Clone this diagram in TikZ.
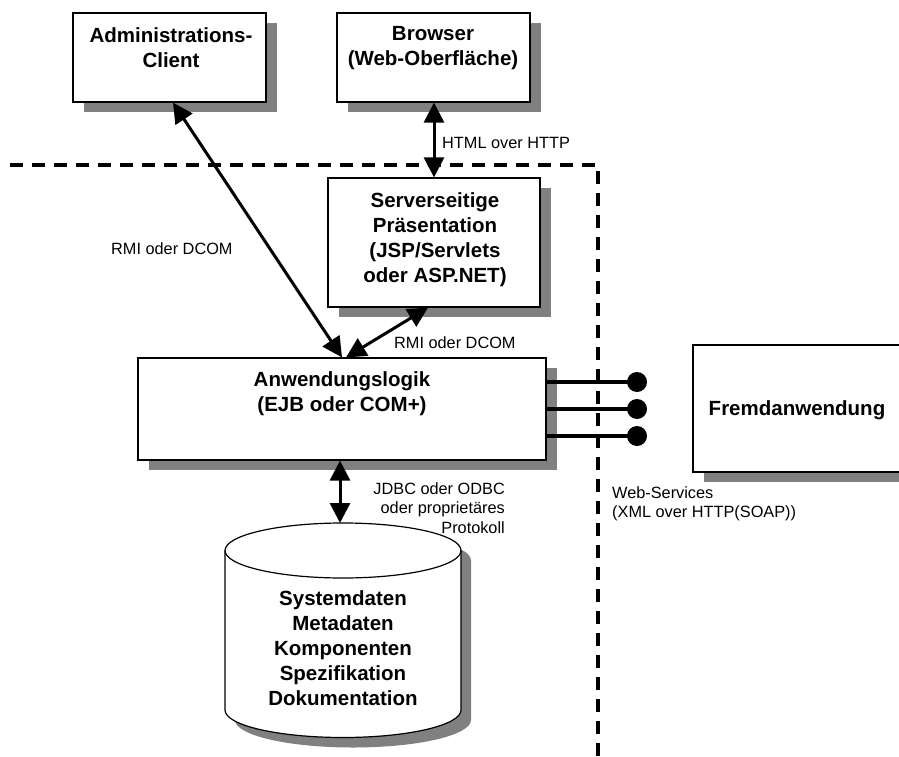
\documentclass[tikz,border=0pt]{standalone}
\usepackage{fontspec}
\setmainfont{Liberation Sans}
\usetikzlibrary{arrows.meta,shadows,calc}
\definecolor{shadowgray}{HTML}{808080}
\tikzset{
  box/.style={draw, line width=1.2pt, fill=white, inner sep=0pt,
    drop shadow={shadow xshift=11pt, shadow yshift=-10pt, fill=shadowgray, opacity=1}},
  btext/.style={inner sep=0pt, align=center, font=\fontsize{20.5}{25}\selectfont\bfseries},
  stext/.style={inner sep=0pt, font=\fontsize{16.3}{19.5}\selectfont},
  biarrow/.style={line width=3pt, {Triangle[length=20pt,width=20pt]}-{Triangle[length=20pt,width=20pt]}},
  boundary/.style={line width=4pt, dash pattern=on 13pt off 9pt},
  wire/.style={line width=3.5pt},
  dot/.style={circle, fill=black, inner sep=0pt, minimum size=20pt}
}
\begin{document}
\begin{tikzpicture}[x=1pt,y=-1pt]
\clip (0,0) rectangle (899,757);
\fill[white] (0,0) rectangle (899,757);

% boundary
\draw[boundary] (10,165) -- (598,165) -- (598,760);

% boxes
\node[box, minimum width=193pt, minimum height=89pt] (admin) at (169.5,57.5) {};
\node[btext] (admint) at (171,47.5) {Administrations-\\Client};
\node[box, minimum width=193pt, minimum height=89pt] (browser) at (433.5,57.5) {};
\node[btext] (browsert) at (433,48.5) {Browser\\(Web-Oberfläche)};
\node[box, minimum width=212pt, minimum height=129pt] (server) at (434,242.5) {};
\node[btext] (servert) at (435,240) {Serverseitige\\Präsentation\\(JSP/Servlets\\oder ASP.NET)};
\node[box, minimum width=408pt, minimum height=102pt] (anw) at (342,409) {};
\node[btext] (anwt) at (342,394) {Anwendungslogik\\(EJB oder COM+)};
\node[box, minimum width=208pt, minimum height=127pt] (fremd) at (797,408.5) {};
\node[btext] (fremdt) at (797,410) {Fremdanwendung};

% database cylinder
\fill[shadowgray, shift={(10,10)}] (225,550.5) -- (225,710)
  arc[start angle=180, end angle=360, x radius=118pt, y radius=27.5pt]
  -- (461,550.5)
  arc[start angle=0, end angle=180, x radius=118pt, y radius=27.5pt] -- cycle;
\draw[line width=1.2pt, fill=white] (225,550.5) -- (225,710)
  arc[start angle=180, end angle=360, x radius=118pt, y radius=27.5pt]
  -- (461,550.5)
  arc[start angle=0, end angle=180, x radius=118pt, y radius=27.5pt] -- cycle;
\draw[line width=1.2pt] (225,550.5)
  arc[start angle=180, end angle=360, x radius=118pt, y radius=27.5pt];
\coordinate (dbtop) at (340,523);
\node[btext] (db) at (343,648) {Systemdaten\\Metadaten\\Komponenten\\Spezifikation\\Dokumentation};

% connectors
\draw[biarrow] (434,0 |- browser.south) -- (434,0 |- server.north);
\draw[biarrow] (173,0 |- admin.south) -- (342,0 |- anw.north);
\draw[biarrow] (428,0 |- server.south) -- (346,0 |- anw.north);
\draw[biarrow] (340,0 |- anw.south) -- (dbtop);

% web service lollipops
\node[dot] (d1) at (637,382) {};
\node[dot] (d2) at (637,409) {};
\node[dot] (d3) at (637,436) {};
\draw[wire] (anw.east |- d1) -- (d1.center);
\draw[wire] (anw.east |- d2) -- (d2.center);
\draw[wire] (anw.east |- d3) -- (d3.center);

% labels
\node[stext, anchor=west] (lhtml) at (442,143) {HTML over HTTP};
\node[stext, anchor=west] (lrmi1) at (111,249) {RMI oder DCOM};
\node[stext, anchor=west] (lrmi2) at (394,343) {RMI oder DCOM};
\node[stext, anchor=east, align=right] (ljdbc) at (505,508) {JDBC oder ODBC\\oder proprietäres\\Protokoll};
\node[stext, anchor=west, align=left] (lws) at (612,504) {Web-Services\\(XML over HTTP(SOAP))};
\end{tikzpicture}
\end{document}
